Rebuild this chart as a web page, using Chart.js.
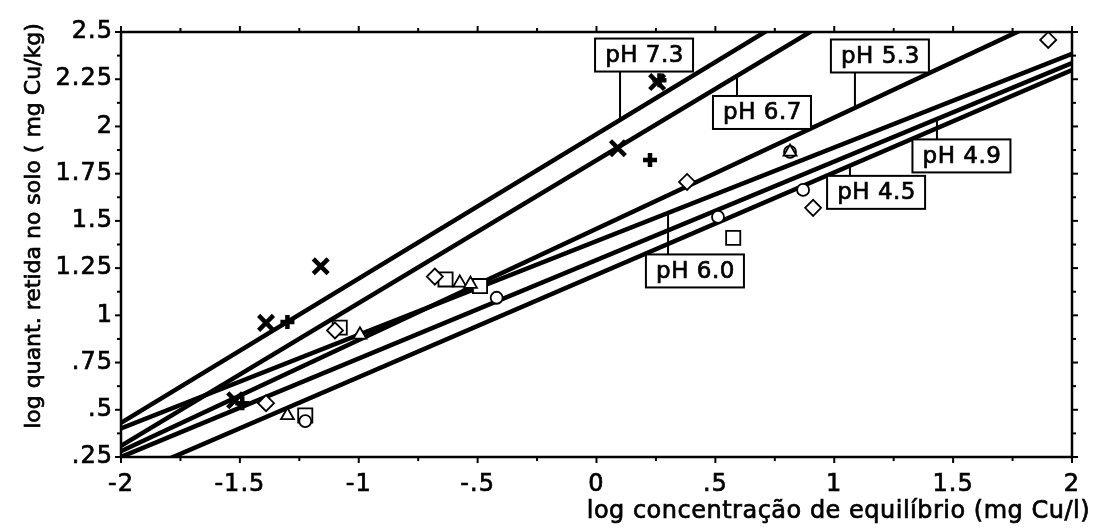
<!DOCTYPE html>
<html>
<head>
<meta charset="utf-8">
<script src="https://cdn.jsdelivr.net/npm/chart.js@4.4.1/dist/chart.umd.min.js"></script>
<style>
  html, body { margin: 0; padding: 0; background: #fff; }
  #wrap { width: 1093px; height: 531px; position: relative; }
</style>
</head>
<body>
<div id="wrap"><canvas id="c"></canvas></div>
<script>
// Freundlich isotherms of Cu: log q = log K + (1/n)·log C, one fit per soil pH
const phNames     = ['pH 7.3', 'pH 6.7', 'pH 6.0', 'pH 5.3', 'pH 4.9', 'pH 4.5'];
const fitLogK     = [1.959, 1.821, 1.393, 1.458, 1.293, 1.215];
const fitSlope    = [0.764, 0.756, 0.496, 0.589, 0.5215, 0.542];

// measured points (log C, log q) per pH
const ph73X = [-1.52, -1.39, -1.16, 0.09, 0.255];
const ph73Y = [0.55, 0.96, 1.26, 1.885, 2.235];
const ph67X = [-1.49, -1.30, 0.225, 0.265];
const ph67Y = [0.535, 0.965, 1.823, 2.245];
const ph60X = [-1.30, -0.995, -0.575, -0.53, 0.814];
const ph60Y = [0.47, 0.897, 1.172, 1.165, 1.865];
const ph53X = [-1.39, -1.10, -0.68, 0.381, 0.911, 1.90];
const ph53Y = [0.535, 0.92, 1.205, 1.706, 1.569, 2.458];
const ph49X = [-1.225, -0.42, 0.511, 0.869, 0.814];
const ph49Y = [0.44, 1.093, 1.521, 1.664, 1.865];
const ph45X = [-1.225, -1.08, -0.635, -0.49, 0.575];
const ph45Y = [0.47, 0.935, 1.19, 1.155, 1.41];

// axis ticks
const xTickValues = [-2, -1.5, -1, -0.5, 0, 0.5, 1, 1.5, 2];
const xTickLabels = ['-2', '-1.5', '-1', '-.5', '0', '.5', '1', '1.5', '2'];
const yTickValues = [0.25, 0.5, 0.75, 1, 1.25, 1.5, 1.75, 2, 2.25, 2.5];
const yTickLabels = ['.25', '.5', '.75', '1', '1.25', '1.5', '1.75', '2', '2.25', '2.5'];

// callout boxes: where each leader meets its fitted line, and where the box sits
const calloutLeaderX = [0.099, 0.591, 0.301, 1.087, 1.432, 1.066];
const calloutBoxX    = [0.200, 0.696, 0.414, 1.192, 1.535, 1.176];
const calloutBoxY    = [2.378, 2.074, 1.235, 2.373, 1.844, 1.651];

const FONT = "'DejaVu Sans', 'Liberation Sans', sans-serif";
Chart.defaults.font.family = FONT;
Chart.defaults.color = '#000';

const pts = (xs, ys) => xs.map((v, i) => ({ x: v, y: ys[i] }));
const fitLine = i => [-2, 2].map(v => ({ x: v, y: fitLogK[i] + fitSlope[i] * v }));

const lineSets = phNames.map((name, i) => ({
  label: name,
  data: fitLine(i),
  showLine: true,
  borderColor: '#000',
  borderWidth: 4.5,
  pointRadius: 0,
  clip: 0,
  order: 2
}));

const markerStyle = (data, style, radius, bw, fill) => ({
  data,
  showLine: false,
  pointStyle: style,
  pointRadius: radius,
  pointHoverRadius: radius,
  pointBorderWidth: bw,
  pointBorderColor: '#000',
  pointBackgroundColor: fill,
  clip: false,
  order: 1
});

const markerSets = [
  markerStyle(pts(ph73X, ph73Y), 'crossRot', 10.5, 4.5, '#000'),
  markerStyle(pts(ph67X, ph67Y), 'cross', 7, 4.5, '#000'),
  markerStyle(pts(ph60X, ph60Y), 'triangle', 7.5, 1.8, '#fff'),
  markerStyle(pts(ph53X, ph53Y), 'rectRot', 8, 1.8, '#fff'),
  markerStyle(pts(ph49X, ph49Y), 'circle', 6, 1.8, '#fff'),
  markerStyle(pts(ph45X, ph45Y), 'rect', 10, 1.8, '#fff')
];

// slightly tracked lettering for every text drawn on the canvas
const tracking = {
  id: 'tracking',
  beforeDraw(chart) { chart.ctx.letterSpacing = '1px'; }
};

// heavy lettering: fill plus a thin outline of the same ink
function inkText(ctx, text, x, y) {
  ctx.fillText(text, x, y);
  ctx.lineWidth = 0.7;
  ctx.strokeText(text, x, y);
}

// frame, outward ticks on all four sides, callouts and axis titles
const decor = {
  id: 'decor',
  afterDatasetsDraw(chart) {
    const { ctx, chartArea: a, scales: { x, y } } = chart;
    const seg = (x1, y1, x2, y2) => { ctx.beginPath(); ctx.moveTo(x1, y1); ctx.lineTo(x2, y2); ctx.stroke(); };
    ctx.save();
    ctx.strokeStyle = '#000';
    ctx.lineCap = 'butt';

    // ticks
    ctx.lineWidth = 2;
    for (let i = 0; i <= 16; i++) {
      const px = x.getPixelForValue(-2 + i * 0.25);
      const len = i % 2 === 0 ? 6 : 4;
      seg(px, a.bottom, px, a.bottom + len);
      seg(px, a.top, px, a.top - len);
    }
    for (let i = 0; i <= 18; i++) {
      const py = y.getPixelForValue(0.25 + i * 0.125);
      const len = i % 2 === 0 ? 6 : 4;
      seg(a.left, py, a.left - len, py);
      seg(a.right, py, a.right + len, py);
    }
    // frame
    ctx.lineWidth = 2.5;
    ctx.strokeRect(a.left, a.top, a.right - a.left, a.bottom - a.top);

    // callouts
    const bw = 98, bh = 33;
    ctx.font = '23px ' + FONT;
    ctx.letterSpacing = '0.5px';
    ctx.textAlign = 'center';
    ctx.textBaseline = 'middle';
    phNames.forEach((name, i) => {
      const bx = x.getPixelForValue(calloutBoxX[i]);
      const by = y.getPixelForValue(calloutBoxY[i]);
      const lx = x.getPixelForValue(calloutLeaderX[i]);
      const ly = y.getPixelForValue(fitLogK[i] + fitSlope[i] * calloutLeaderX[i]);
      ctx.lineWidth = 2;
      seg(lx, ly > by ? by + bh / 2 : by - bh / 2, lx, ly);
      ctx.fillStyle = '#fff';
      ctx.fillRect(bx - bw / 2, by - bh / 2, bw, bh);
      ctx.strokeRect(bx - bw / 2, by - bh / 2, bw, bh);
      ctx.fillStyle = '#000';
      inkText(ctx, name, bx + 0.5, by + 1);
    });

    // axis titles
    ctx.font = '24px ' + FONT;
    ctx.letterSpacing = '0.5px';
    ctx.textAlign = 'right';
    ctx.textBaseline = 'alphabetic';
    inkText(ctx, 'log concentração de equilíbrio (mg Cu/l)', 1090, 518);
    ctx.save();
    ctx.translate(34, 226);
    ctx.rotate(-Math.PI / 2);
    ctx.font = '22px ' + FONT;
    ctx.letterSpacing = '0px';
    ctx.textAlign = 'center';
    ctx.textBaseline = 'middle';
    inkText(ctx, 'log quant. retida no solo ( mg Cu/kg)', 0, 0);
    ctx.restore();

    ctx.restore();
  }
};

const tickText = { textStrokeColor: '#000', textStrokeWidth: 0.7 };

new Chart(document.getElementById('c'), {
  type: 'scatter',
  data: { datasets: [...lineSets, ...markerSets] },
  options: {
    responsive: true,
    maintainAspectRatio: false,
    animation: false,
    events: [],
    layout: { padding: { top: 32, right: 21, left: 0, bottom: 0 } },
    plugins: { legend: { display: false }, tooltip: { enabled: false } },
    scales: {
      x: {
        type: 'linear', min: -2, max: 2,
        grid: { display: false, drawTicks: false },
        border: { display: false },
        afterBuildTicks: s => { s.ticks = xTickValues.map(v => ({ value: v })); },
        afterFit: s => { s.height = 74; },
        ticks: {
          ...tickText,
          padding: 13,
          autoSkip: false,
          maxRotation: 0,
          font: { size: 24 },
          callback: (v, i) => xTickLabels[i]
        }
      },
      y: {
        type: 'linear', min: 0.25, max: 2.5,
        grid: { display: false, drawTicks: false },
        border: { display: false },
        afterBuildTicks: s => { s.ticks = yTickValues.map(v => ({ value: v })); },
        afterFit: s => { s.width = 121; },
        ticks: {
          ...tickText,
          padding: 8,
          autoSkip: false,
          font: { size: 24 },
          callback: (v, i) => yTickLabels[i]
        }
      }
    }
  },
  plugins: [tracking, decor]
});
</script>
</body>
</html>
